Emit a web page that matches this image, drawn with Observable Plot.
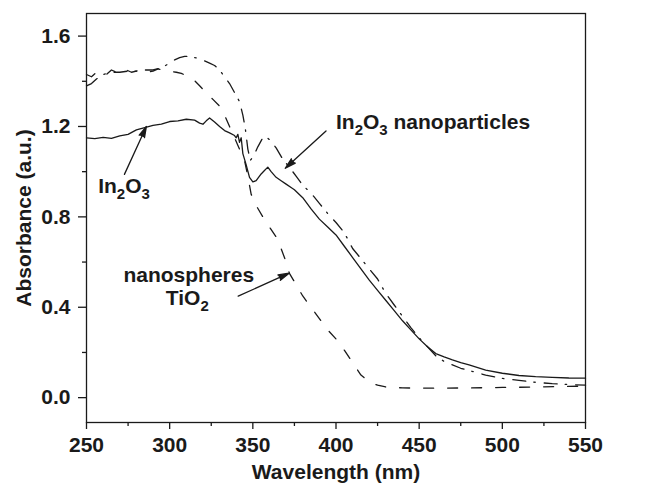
<!DOCTYPE html>
<html><head><meta charset="utf-8">
<script src="https://cdn.jsdelivr.net/npm/d3@7"></script>
<script src="https://cdn.jsdelivr.net/npm/@observablehq/plot@0.6"></script>
<style>body{margin:0;background:#fff;}</style>
</head><body><div id="chart"></div>
<script>
// In2O3 (solid line)
const wlSolid = [250,255,260,265,270,275,280,285,290,295,300,305,310,315,318,320,322,324,327,330,333,336,339,340,341,342,343,344,346,348,350,352,355,357,359,361,364,367,370,373,375,380,385,390,395,400,405,410,415,420,425,430,435,440,445,450,455,460,465,470,475,480,490,500,510,520,530,540,550];
const absSolid = [1.150,1.146,1.152,1.147,1.158,1.165,1.185,1.195,1.205,1.21,1.222,1.225,1.232,1.228,1.215,1.21,1.225,1.238,1.22,1.2,1.182,1.172,1.16,1.15,1.165,1.13,1.15,1.08,1.03,0.975,0.955,0.96,0.99,1.005,1.02,1.0,0.975,0.96,0.945,0.93,0.92,0.885,0.835,0.79,0.755,0.72,0.67,0.62,0.57,0.52,0.475,0.43,0.385,0.34,0.30,0.26,0.225,0.195,0.18,0.167,0.155,0.145,0.122,0.108,0.098,0.093,0.09,0.087,0.086];

// TiO2 nanospheres (dashed line)
const wlDash = [250,253,256,259,262,265,268,271,274,277,280,283,286,290,293,296,300,304,307,310,314,318,322,326,330,333,336,339,342,345,347,349,352,356,360,365,370,372,376,380,385,390,395,400,405,410,415,420,425,430,440,460,480,500,520,540,550];
const absDash = [1.43,1.42,1.44,1.445,1.43,1.45,1.44,1.435,1.45,1.44,1.445,1.45,1.44,1.445,1.455,1.45,1.445,1.44,1.435,1.425,1.41,1.38,1.35,1.32,1.29,1.25,1.20,1.15,1.10,1.05,0.98,0.90,0.85,0.80,0.755,0.70,0.60,0.55,0.50,0.45,0.40,0.35,0.30,0.26,0.21,0.155,0.10,0.07,0.055,0.047,0.043,0.042,0.043,0.045,0.047,0.05,0.051];

// In2O3 nanoparticles (dash-dot line)
const wlDot = [250,253,256,260,265,270,275,280,285,290,295,300,303,306,309,312,315,318,321,324,327,330,333,336,339,342,344,345.5,347,348.5,350.5,353,356,358,361,364,368,372,376,380,385,390,395,400,405,410,415,420,425,430,435,440,445,450,455,460,465,470,475,480,490,500,510,520,530,540,550];
const absDot = [1.38,1.39,1.41,1.43,1.44,1.44,1.445,1.445,1.45,1.45,1.46,1.48,1.495,1.505,1.51,1.51,1.505,1.50,1.49,1.48,1.47,1.45,1.42,1.39,1.35,1.31,1.25,1.19,1.10,1.05,1.07,1.11,1.15,1.155,1.135,1.105,1.055,1.02,0.98,0.94,0.905,0.86,0.815,0.775,0.73,0.66,0.615,0.57,0.525,0.46,0.41,0.36,0.31,0.265,0.225,0.185,0.16,0.145,0.13,0.12,0.10,0.085,0.076,0.068,0.062,0.058,0.055];

const xTicks = [250,300,350,400,450,500,550];
const xMinor = [275,325,375,425,475,525];
const yTicks = [0.0,0.4,0.8,1.2,1.6];
const yMinor = [0.2,0.6,1.0,1.4];

const noteText = ["In2O3 nanoparticles","In2O3","nanospheres","TiO2"];
const noteX = [400,257,311.5,310.6];
const noteY = [1.22,0.935,0.54,0.44];
const noteAnchor = ["start","start","middle","middle"];

const arrowX1 = [394,272.8,341.2];
const arrowY1 = [1.18,0.988,0.449];
const arrowX2 = [369.5,286,371.8];
const arrowY2 = [1.015,1.2,0.551];

const toRows = (xs, ys) => xs.map((x, i) => ({x, y: ys[i]}));
const notes = noteText.map((t, i) => ({t, x: noteX[i], y: noteY[i], a: noteAnchor[i]}));
const arrows = arrowX1.map((x1, i) => ({x1, y1: arrowY1[i], x2: arrowX2[i], y2: arrowY2[i]}));
const ink = "#1a1a1a";
const FS = 21;

const plot = Plot.plot({
  width: 652, height: 485,
  marginLeft: 86, marginRight: 67, marginTop: 13, marginBottom: 63,
  x: {domain: [250, 550]},
  y: {domain: [-0.11, 1.7]},
  style: {fontFamily: "'Liberation Sans', Arial, sans-serif", fontSize: FS + "px", fontWeight: "bold", color: ink, background: "#fff"},
  marks: [
    Plot.axisX({ticks: xTicks, tickSize: 7, tickPadding: 8, strokeWidth: 1.3, tickFormat: d => String(d), label: "Wavelength (nm)", labelAnchor: "center", labelArrow: "none", labelOffset: 56}),
    Plot.axisX({ticks: xMinor, tickSize: 4, strokeWidth: 1.3, tickFormat: () => "", label: null}),
    Plot.axisY({ticks: yTicks, tickSize: 8, tickPadding: 8, strokeWidth: 1.3, tickFormat: d => d.toFixed(1), label: "Absorbance (a.u.)", labelAnchor: "center", labelArrow: "none", labelOffset: 70}),
    Plot.axisY({ticks: yMinor, tickSize: 4, strokeWidth: 1.3, tickFormat: () => "", label: null}),
    Plot.frame({stroke: ink, strokeWidth: 1.3}),
    Plot.line(toRows(wlSolid, absSolid), {x: "x", y: "y", stroke: ink, strokeWidth: 1.3}),
    Plot.line(toRows(wlDash, absDash), {x: "x", y: "y", stroke: ink, strokeWidth: 1.3, strokeDasharray: "10 14"}),
    Plot.line(toRows(wlDot, absDot), {x: "x", y: "y", stroke: ink, strokeWidth: 1.3, strokeDasharray: "13 8 1.5 9"}),
    Plot.arrow(arrows, {x1: "x1", y1: "y1", x2: "x2", y2: "y2", stroke: ink, fill: ink, strokeWidth: 1.3, headLength: 13, headAngle: 30}),
    Plot.text(notes, {x: "x", y: "y", text: "t", textAnchor: "start", fontSize: FS, fontWeight: "bold", fill: ink, filter: d => d.a === "start"}),
    Plot.text(notes, {x: "x", y: "y", text: "t", textAnchor: "middle", fontSize: FS, fontWeight: "bold", fill: ink, filter: d => d.a === "middle"})
  ]
});

document.getElementById("chart").appendChild(plot);
const svg = plot.tagName.toLowerCase() === "svg" ? plot : plot.querySelector("svg");
// chemical formula subscripts
d3.select(svg).selectAll("text").each(function () {
  const el = this;
  const t = el.textContent;
  if (!/[A-Za-z]\d/.test(t)) return;
  el.textContent = "";
  const parts = t.split(/(\d)/).filter(s => s.length);
  let low = false;
  for (const p of parts) {
    const isDigit = /^\d$/.test(p);
    const ts = d3.select(el).append("tspan").text(p);
    if (isDigit) {
      ts.attr("font-size", Math.round(FS * 0.72) + "px");
      if (!low) { ts.attr("dy", "6px"); low = true; }
    } else if (low) {
      ts.attr("dy", "-6px"); low = false;
    }
  }
});
</script>
</body></html>
